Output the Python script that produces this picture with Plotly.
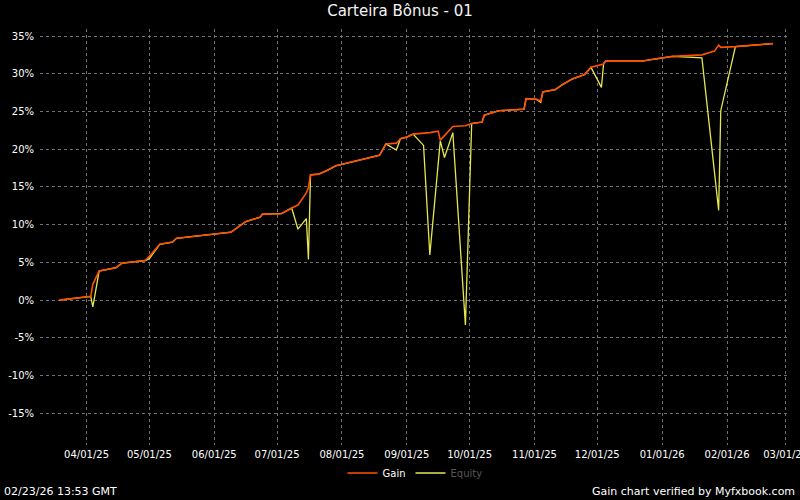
import plotly.graph_objects as go

# dates of the data points
dates = [
    "2025-03-19", "2025-04-03", "2025-04-04", "2025-04-07", "2025-04-15", "2025-04-18",
    "2025-04-29", "2025-05-01", "2025-05-06", "2025-05-12", "2025-05-14", "2025-06-09",
    "2025-06-16", "2025-06-23", "2025-06-24", "2025-07-03", "2025-07-08", "2025-07-11",
    "2025-07-15", "2025-07-16", "2025-07-17", "2025-07-21", "2025-07-25", "2025-07-29",
    "2025-08-01", "2025-08-19", "2025-08-22", "2025-08-27", "2025-08-29", "2025-09-01",
    "2025-09-04", "2025-09-09", "2025-09-12", "2025-09-16", "2025-09-17", "2025-09-19",
    "2025-09-23", "2025-09-29", "2025-10-02", "2025-10-07", "2025-10-08", "2025-10-15",
    "2025-10-20", "2025-10-27", "2025-10-28", "2025-11-02", "2025-11-04", "2025-11-05",
    "2025-11-11", "2025-11-14", "2025-11-19", "2025-11-25", "2025-11-28", "2025-12-03",
    "2025-12-04", "2025-12-05", "2025-12-23", "2025-12-26", "2026-01-06", "2026-01-20",
    "2026-01-26", "2026-01-28", "2026-01-29", "2026-02-05", "2026-02-23",
]

gain = [
    0.0, 0.5, 2.1, 3.85, 4.3, 4.9,
    5.25, 5.8, 7.4, 7.7, 8.2, 9.0,
    10.4, 11.0, 11.4, 11.45, 12.2, 12.6,
    14.2, 14.9, 16.6, 16.7, 17.2, 17.8,
    18.0, 19.2, 20.7, 20.8, 21.4, 21.6,
    22.0, 22.1, 22.2, 22.4, 21.2, 21.8,
    23.0, 23.1, 23.4, 23.6, 24.5, 25.1,
    25.2, 25.3, 26.7, 26.6, 26.4, 27.6,
    27.9, 28.5, 29.3, 29.9, 30.85, 31.2,
    31.3, 31.7, 31.7, 31.85, 32.3, 32.5,
    33.0, 33.8, 33.5, 33.6, 34.0,
]

equity = [
    0.0, 0.5, -0.9, 3.85, 4.3, 4.9,
    5.25, 5.5, 7.4, 7.7, 8.2, 9.0,
    10.4, 11.0, 11.4, 11.45, 12.2, 9.4,
    10.8, 5.4, 16.6, 16.7, 17.2, 17.8,
    18.0, 19.2, 20.7, 19.9, 21.4, 21.6,
    22.0, 20.5, 6.0, 18.5, 21.1, 18.9,
    22.2, -3.3, 23.4, 23.6, 24.5, 25.1,
    25.2, 25.3, 26.7, 26.6, 26.2, 27.6,
    27.9, 28.5, 29.3, 29.9, 30.85, 28.2,
    31.3, 31.7, 31.7, 31.85, 32.3, 32.1,
    16.5, 11.9, 25.1, 33.6, 34.0,
]

y_ticks = [-15, -10, -5, 0, 5, 10, 15, 20, 25, 30, 35]
y_labels = [f"{v}%" for v in y_ticks]

fig = go.Figure()
fig.add_trace(go.Scatter(
    x=dates, y=equity, mode="lines",
    name="<span style='color:#555555'>Equity</span>",
    line=dict(color="#e6e650", width=1.3), legendrank=2,
))
fig.add_trace(go.Scatter(
    x=dates, y=gain, mode="lines", name="Gain",
    line=dict(color="#ff5200", width=1.6), legendrank=1,
))

fig.update_layout(
    width=800, height=500,
    paper_bgcolor="#000000", plot_bgcolor="#000000",
    margin=dict(l=40, r=10, t=29, b=55),
    font=dict(family="DejaVu Sans", color="#ffffff", size=11),
    title=dict(text="Carteira Bônus - 01", x=0.5, xanchor="center", y=0.978, yanchor="middle",
               font=dict(family="DejaVu Sans", size=15, color="#f4f4f4")),
    showlegend=True,
    legend=dict(orientation="h", x=0.5, xanchor="center",
                yref="container", y=0.054, yanchor="middle",
                font=dict(size=10, color="#ffffff"), bgcolor="rgba(0,0,0,0)",
                itemwidth=30),
)

fig.update_xaxes(
    type="date", range=["2025-03-09 18:00", "2026-03-03 02:00"],
    tick0="2025-04-01", dtick="M1", tickformat="%m/%d/%y",
    showgrid=True, gridcolor="#707070", griddash="3px,3px", gridwidth=1,
    zeroline=False, showline=False, ticks="", ticklabelstandoff=2,
    ticklabeloverflow="allow",
    tickfont=dict(size=10, color="#ffffff"), automargin=False,
)
fig.update_yaxes(
    range=[-19.2, 35.93], tickvals=y_ticks, ticktext=y_labels,
    showgrid=True, gridcolor="#707070", griddash="3px,3px", gridwidth=1,
    zeroline=False, showline=False, ticks="", ticklabelstandoff=5,
    tickfont=dict(size=10, color="#ffffff"), automargin=False,
)

fig.add_annotation(text="02/23/26 13:53 GMT", xref="paper", yref="paper",
                   x=0, y=-0.1106, xanchor="left", yanchor="middle",
                   showarrow=False, font=dict(size=11, color="#ffffff"),
                   xshift=-38)
fig.add_annotation(text="Gain chart verified by Myfxbook.com", xref="paper", yref="paper",
                   x=1.0, y=-0.1106, xanchor="right", yanchor="middle",
                   showarrow=False, font=dict(size=11, color="#ffffff"), xshift=7)

# page body has an 8px default margin; drop it so the figure fills the window
fig.write_html("out.html", config={"displayModeBar": False},
               post_script="document.body.style.margin='0px';")
